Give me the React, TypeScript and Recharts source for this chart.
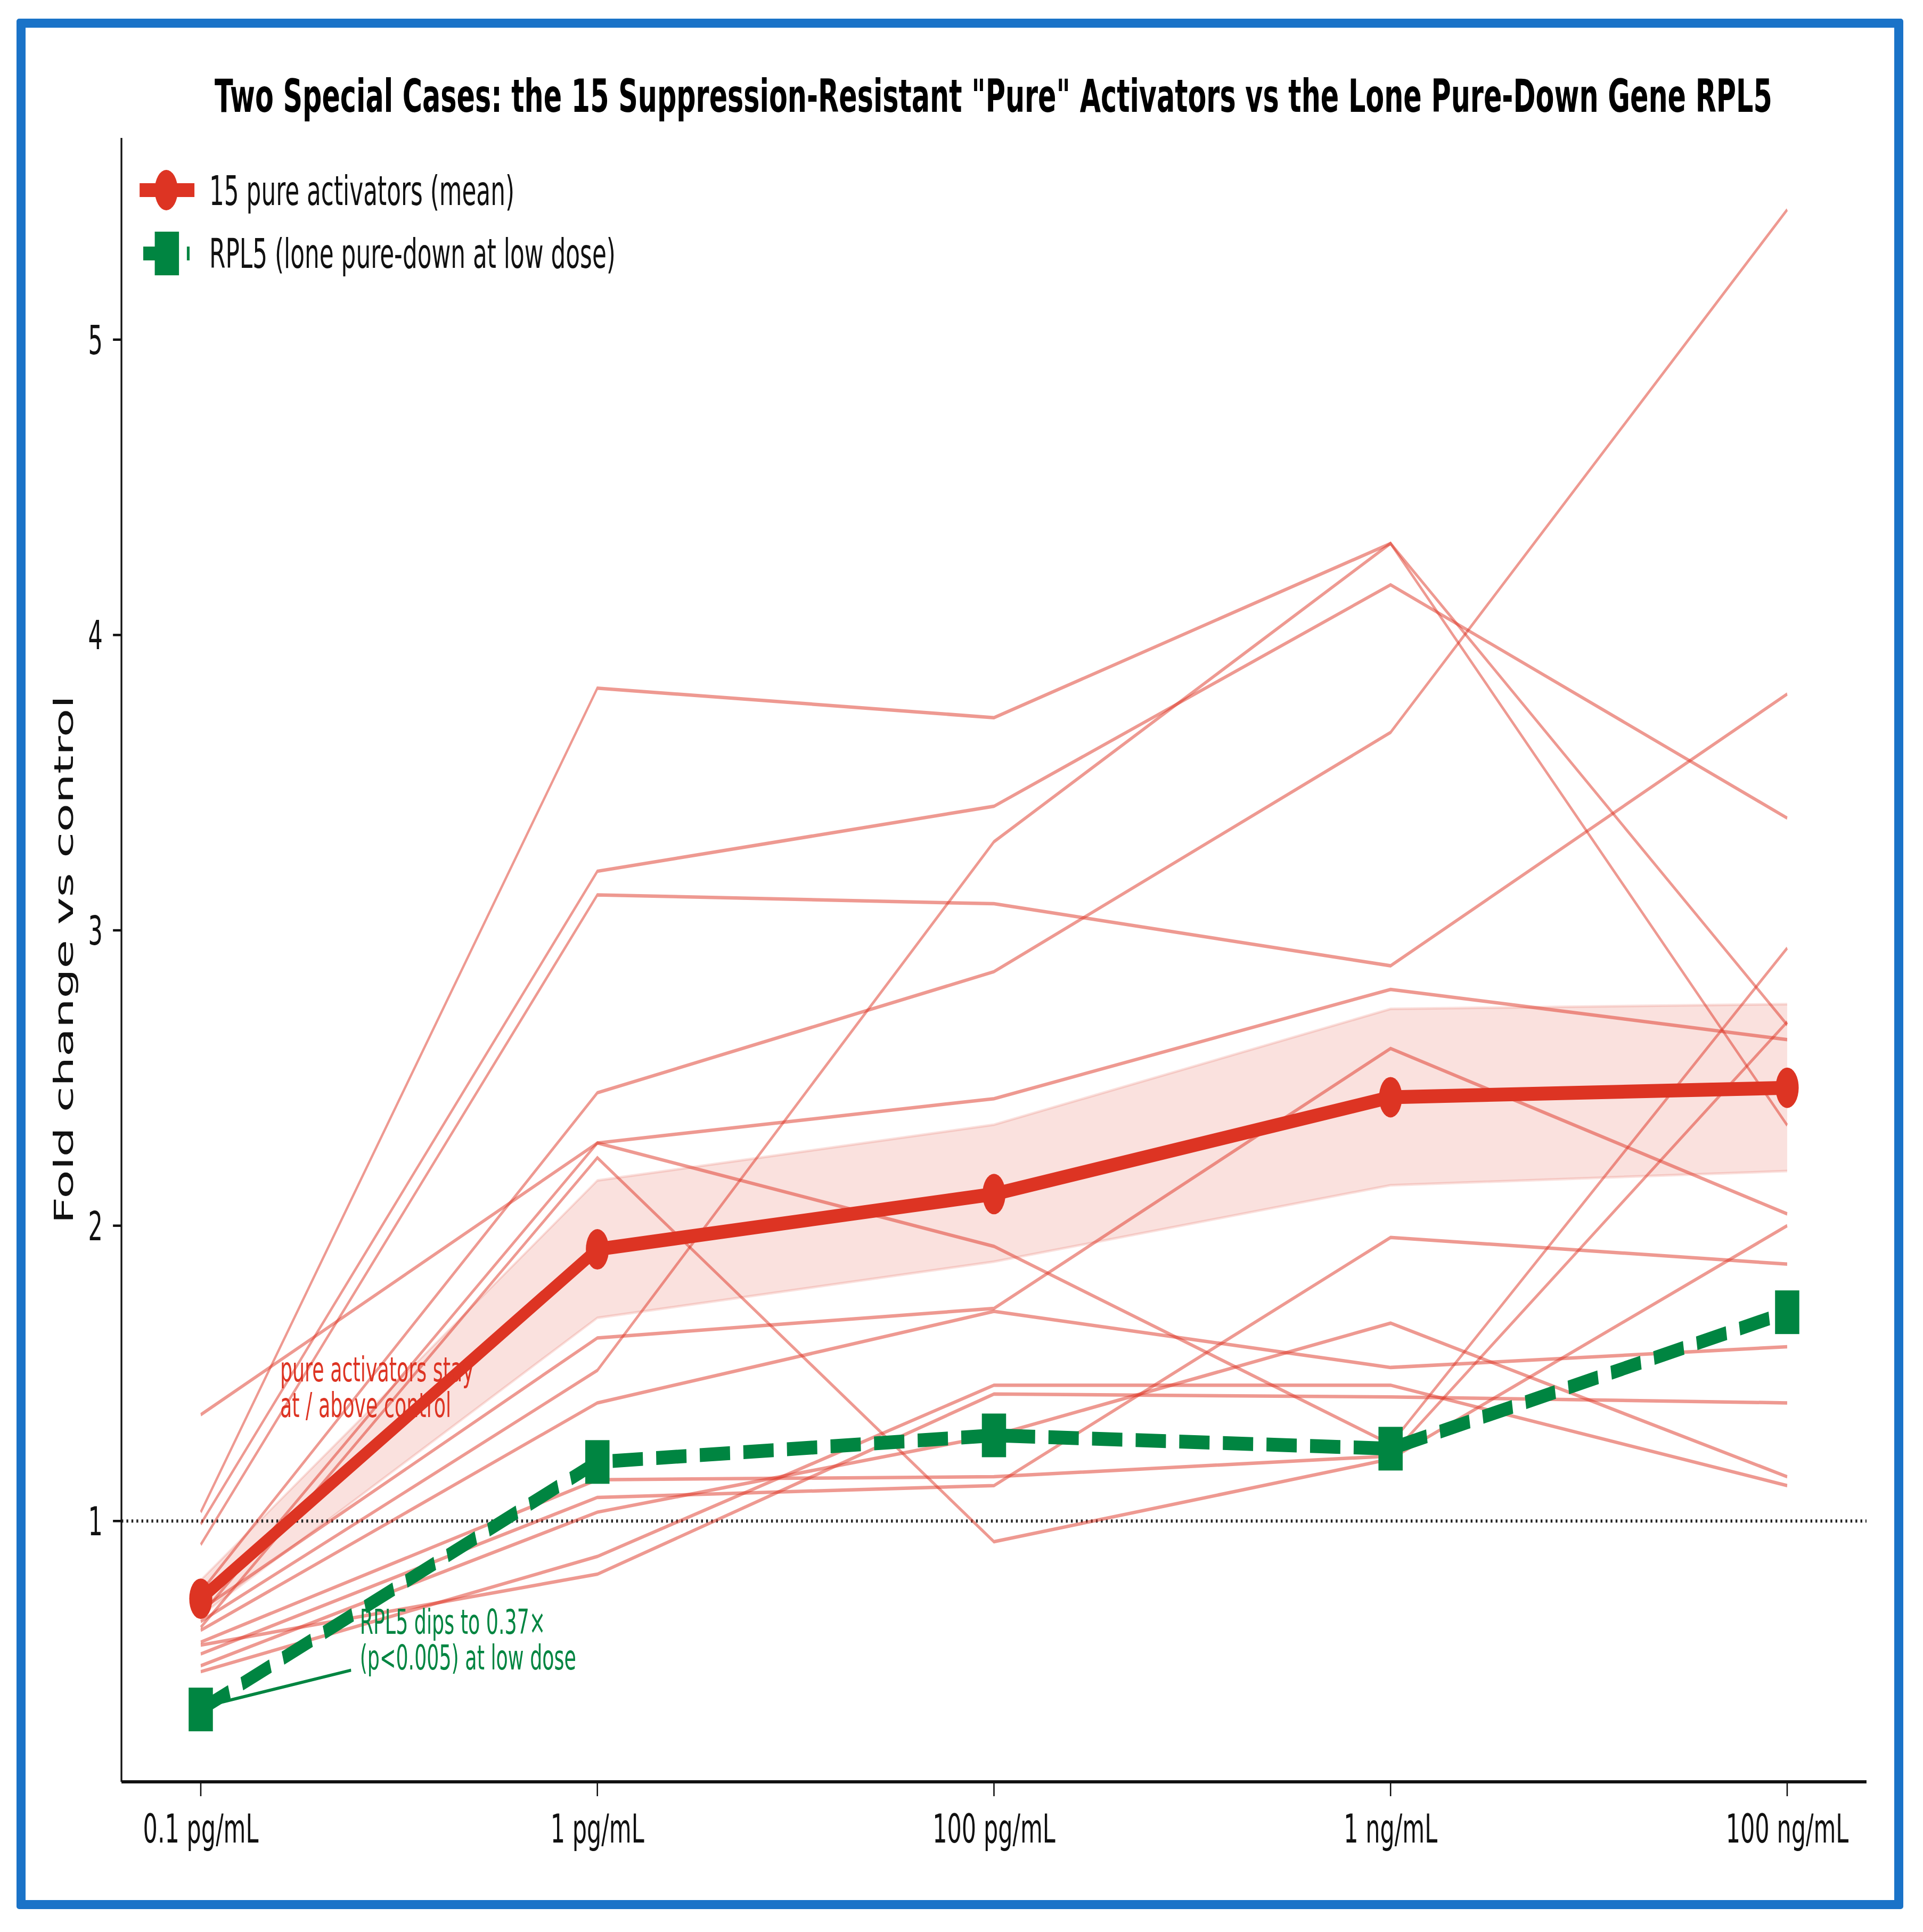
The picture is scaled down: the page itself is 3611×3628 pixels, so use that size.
import React from 'react';
import {
  ComposedChart,
  Line,
  Area,
  XAxis,
  YAxis,
  ReferenceLine,
  ReferenceDot,
} from 'recharts';

const doses = ['0.1 pg/mL', '1 pg/mL', '100 pg/mL', '1 ng/mL', '100 ng/mL'];

// fold change of each of the 15 pure activators, one value per dose
const geneA = [1.03, 3.82, 3.72, 4.31, 2.68];
const geneB = [0.99, 3.2, 3.42, 4.17, 3.38];
const geneC = [0.92, 3.12, 3.09, 2.88, 3.8];
const geneD = [0.76, 2.45, 2.86, 3.67, 5.44];
const geneE = [1.36, 2.28, 2.43, 2.8, 2.63];
const geneF = [0.68, 2.28, 1.93, 1.26, 2.94];
const geneG = [0.64, 2.23, 0.93, 1.21, 2.0];
const geneH = [0.66, 1.51, 3.3, 4.31, 2.34];
const geneI = [0.7, 1.62, 1.72, 2.6, 2.04];
const geneJ = [0.63, 1.4, 1.71, 1.52, 1.59];
const geneK = [0.59, 1.14, 1.15, 1.22, 2.69];
const geneL = [0.55, 1.08, 1.12, 1.96, 1.87];
const geneM = [0.51, 1.03, 1.29, 1.67, 1.15];
const geneN = [0.49, 0.88, 1.46, 1.46, 1.12];
const geneO = [0.58, 0.82, 1.43, 1.42, 1.4];

const activators = [
  geneA, geneB, geneC, geneD, geneE, geneF, geneG, geneH,
  geneI, geneJ, geneK, geneL, geneM, geneN, geneO,
];

const meanFold = [0.737, 1.92, 2.107, 2.435, 2.467];
const bandLow = [0.68, 1.688, 1.878, 2.137, 2.185];
const bandHigh = [0.8, 2.153, 2.342, 2.734, 2.75];
const rpl5 = [0.362, 1.2, 1.29, 1.245, 1.707];

const yTicks = [1, 2, 3, 4, 5];
const xTicks = doses.map((_, i) => i);

const rows = doses.map((dose, i) => {
  const row: Record<string, any> = {
    x: i,
    dose,
    mean: meanFold[i],
    band: [bandLow[i], bandHigh[i]],
    rpl5: rpl5[i],
  };
  activators.forEach((g, k) => {
    row[`g${k}`] = g[i];
  });
  return row;
});

// the picture is a 14x8 figure squeezed into a square, so draw wide and squash x
const W = 3611;
const H = 3628;
const SX = 0.5687;
const CW = Math.round(W / SX);

const RED = '#dd3423';
const GREEN = '#008541';
const INK = '#111111';
const FONT = '"DejaVu Sans", sans-serif';

const DoseTick = (props: any) => {
  const { x, y, payload } = props;
  return (
    <text x={x} y={y + 87} textAnchor="middle" fontSize={75.6} fontFamily={FONT} fill={INK}>
      {doses[payload.value]}
    </text>
  );
};

const FoldTick = (props: any) => {
  const { x, y, payload } = props;
  return (
    <text x={x - 34} y={y + 27} textAnchor="end" fontSize={75.6} fontFamily={FONT} fill={INK}>
      {payload.value}
    </text>
  );
};

const SquareDot = (props: any) => {
  const { cx, cy, index } = props;
  if (cx == null || cy == null) return null;
  return <rect key={`sq-${index}`} x={cx - 40} y={cy - 41} width={80} height={82} fill={GREEN} />;
};

const Note = ({ cx, cy, lines, color }: any) => (
  <text x={cx} y={cy} fill={color} fontSize={64} fontFamily={FONT}>
    {lines.map((t: string, i: number) => (
      <tspan key={i} x={cx} dy={i === 0 ? 0 : 67}>
        {t}
      </tspan>
    ))}
  </text>
);

function Overlay() {
  return (
    <svg
      width={CW}
      height={H}
      style={{ position: 'absolute', left: 0, top: 0, pointerEvents: 'none' }}
    >
      <text
        x={3280}
        y={210}
        textAnchor="middle"
        fontSize={86}
        fontWeight="bold"
        fontFamily={FONT}
        fill="#000"
        textLength={5143}
        lengthAdjust="spacingAndGlyphs"
      >
        Two Special Cases: the 15 Suppression-Resistant "Pure" Activators vs the Lone Pure-Down Gene RPL5
      </text>
      <text
        transform="translate(241 1802) rotate(-90)"
        textAnchor="middle"
        fontSize={88}
        fontFamily={FONT}
        fill={INK}
      >
        Fold change vs control
      </text>

      {/* legend */}
      <line x1={461} x2={642} y1={357} y2={357} stroke={RED} strokeWidth={26} />
      <circle cx={549} cy={357} r={38} fill={RED} />
      <text x={691} y={385} fontSize={77} fontFamily={FONT} fill={INK}>
        15 pure activators (mean)
      </text>
      <line
        x1={473}
        x2={626}
        y1={476}
        y2={476}
        stroke={GREEN}
        strokeWidth={26}
        strokeDasharray="100 44"
      />
      <rect x={511} y={435} width={80} height={82} fill={GREEN} />
      <text x={691} y={503} fontSize={77} fontFamily={FONT} fill={INK}>
        RPL5 (lone pure-down at low dose)
      </text>
    </svg>
  );
}

export default function App() {
  return (
    <div
      style={{
        position: 'fixed',
        left: 0,
        top: 0,
        width: W,
        height: H,
        overflow: 'hidden',
        background: '#fff',
      }}
    >
      <div
        style={{
          position: 'absolute',
          left: 0,
          top: 0,
          width: CW,
          height: H,
          transform: `scaleX(${SX})`,
          transformOrigin: '0 0',
        }}
      >
        <ComposedChart
          width={CW}
          height={H}
          data={rows}
          margin={{ top: 259, right: CW - 6163, bottom: 0, left: 0 }}
        >
          <XAxis
            type="number"
            dataKey="x"
            domain={[-0.2, 4.2]}
            ticks={xTicks}
            interval={0}
            allowDataOverflow
            height={282}
            tickSize={27}
            tickMargin={0}
            axisLine={{ stroke: INK, strokeWidth: 5.8 }}
            tickLine={{ stroke: INK, strokeWidth: 4.5 }}
            tick={(p: any) => <DoseTick {...p} />}
          />
          <YAxis
            type="number"
            domain={[0.117, 5.683]}
            ticks={yTicks}
            interval={0}
            allowDataOverflow
            width={401}
            tickSize={28}
            tickMargin={0}
            axisLine={{ stroke: INK, strokeWidth: 5.8 }}
            tickLine={{ stroke: INK, strokeWidth: 4.5 }}
            tick={(p: any) => <FoldTick {...p} />}
          />
          <ReferenceLine y={1} stroke="#222" strokeWidth={6} strokeDasharray="6 10.5" />
          {activators.map((_, k) => (
            <Line
              key={`g${k}`}
              dataKey={`g${k}`}
              type="linear"
              stroke={RED}
              strokeOpacity={0.5}
              strokeWidth={6.5}
              dot={false}
              activeDot={false}
              isAnimationActive={false}
            />
          ))}
          <Area
            dataKey="band"
            type="linear"
            stroke={RED}
            strokeOpacity={0.15}
            strokeWidth={5}
            fill={RED}
            fillOpacity={0.15}
            dot={false}
            activeDot={false}
            isAnimationActive={false}
          />
          <Line
            dataKey="mean"
            type="linear"
            stroke={RED}
            strokeWidth={26}
            dot={{ r: 38, fill: RED, stroke: RED, strokeWidth: 0 }}
            activeDot={false}
            isAnimationActive={false}
          />
          <Line
            dataKey="rpl5"
            type="linear"
            stroke={GREEN}
            strokeWidth={26}
            strokeDasharray="100 44"
            dot={(p: any) => <SquareDot {...p} />}
            activeDot={false}
            isAnimationActive={false}
          />
          <ReferenceDot
            x={0.2}
            y={1.473}
            r={0}
            shape={(p: any) => (
              <Note cx={p.cx} cy={p.cy} color={RED} lines={['pure activators stay', 'at / above control']} />
            )}
          />
          <ReferenceLine
            segment={[
              { x: 0.036, y: 0.381 },
              { x: 0.379, y: 0.495 },
            ]}
            stroke={GREEN}
            strokeWidth={6}
          />
          <ReferenceDot
            x={0.401}
            y={0.619}
            r={0}
            shape={(p: any) => (
              <Note
                cx={p.cx}
                cy={p.cy}
                color={GREEN}
                lines={['RPL5 dips to 0.37\u00d7', '(p<0.005) at low dose']}
              />
            )}
          />
        </ComposedChart>
        <Overlay />
      </div>
      <div
        style={{
          position: 'absolute',
          left: 31,
          top: 35,
          width: 3543,
          height: 3550,
          border: '17px solid #1a73c8',
          borderRadius: 5,
          boxSizing: 'border-box',
          pointerEvents: 'none',
        }}
      />
    </div>
  );
}
